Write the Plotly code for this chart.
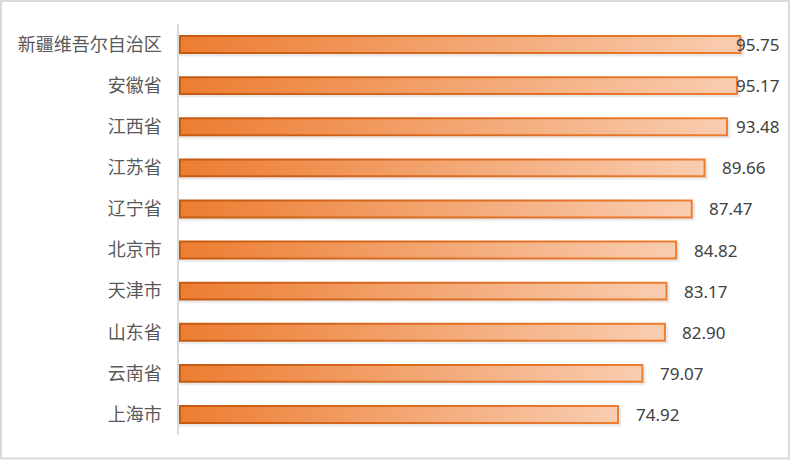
import plotly.graph_objects as go

categories = ["新疆维吾尔自治区", "安徽省", "江西省", "江苏省", "辽宁省",
              "北京市", "天津市", "山东省", "云南省", "上海市"]
values = [95.75, 95.17, 93.48, 89.66, 87.47, 84.82, 83.17, 82.90, 79.07, 74.92]
value_labels = ["95.75", "95.17", "93.48", "89.66", "87.47",
                "84.82", "83.17", "82.90", "79.07", "74.92"]

W, H = 790, 460
ML, MR, MT, MB = 179, 9, 24, 25
XMAX = 102.5
pw = W - ML - MR
ph = H - MT - MB
px_x = pw / XMAX               # pixels per data unit (x)
px_y = ph / len(categories)    # pixels per category band

half = 0.23
fig = go.Figure()

for i, v in enumerate(values):
    # soft shadow
    for k, a in enumerate([0.035, 0.05]):
        off = (3 - k) / px_y
        ox = (3 - k) / px_x
        fig.add_trace(go.Scatter(
            x=[0, v + ox, v + ox, 0, 0],
            y=[i - half + off, i - half + off, i + half + off, i + half + off, i - half + off],
            mode="lines", line=dict(width=0), fill="toself",
            fillcolor=f"rgba(0,0,0,{a})", hoverinfo="skip", showlegend=False))
    # outer (border)
    fig.add_trace(go.Scatter(
        x=[0, v, v, 0, 0],
        y=[i - half, i - half, i + half, i + half, i - half],
        mode="lines", line=dict(width=0), fill="toself",
        fillgradient=dict(type="horizontal",
                          colorscale=[[0, "#C55A11"], [1, "#ED7D31"]]),
        hoverinfo="skip", showlegend=False))
    # inner (gradient fill)
    dx = 2 / px_x
    dy = 2 / px_y
    fig.add_trace(go.Scatter(
        x=[dx, v - dx, v - dx, dx, dx],
        y=[i - half + dy, i - half + dy, i + half - dy, i + half - dy, i - half + dy],
        mode="lines", line=dict(width=0), fill="toself",
        fillgradient=dict(type="horizontal",
                          colorscale=[[0, "#ED7D31"], [1, "#F9CDB0"]]),
        hovertemplate=f"{categories[i]}: {value_labels[i]}<extra></extra>",
        showlegend=False))

# value labels (outside end, kept inside the plot area)
label_w = 47
for i, v in enumerate(values):
    x_lab = min(v + 14.5 / px_x, XMAX - label_w / px_x)
    fig.add_annotation(x=x_lab, y=i, text=value_labels[i], showarrow=False,
                       xanchor="left", yanchor="middle",
                       font=dict(family="Noto Sans, Open Sans, sans-serif",
                                 size=17, color="#404040"))

# outer chart border
fig.add_shape(type="rect", xref="paper", yref="paper",
              x0=(-ML + 1) / pw, x1=(W - ML - 1) / pw,
              y0=(-MB + 1.5) / ph, y1=(H - MB - 1) / ph,
              line=dict(color="#D9D9D9", width=2), layer="below")

fig.update_layout(
    width=W, height=H,
    margin=dict(l=ML, r=MR, t=MT, b=MB),
    paper_bgcolor="white", plot_bgcolor="white",
    xaxis=dict(range=[0, XMAX], showgrid=False, zeroline=False,
               showticklabels=False, showline=False, fixedrange=True),
    yaxis=dict(range=[len(categories) - 0.5, -0.5], tickmode="array",
               tickvals=list(range(len(categories))), ticktext=categories,
               showgrid=False, zeroline=False, showline=True,
               linecolor="#D9D9D9", linewidth=1.5, ticks="",
               ticklabelstandoff=12, fixedrange=True,
               tickfont=dict(family="Noto Sans CJK SC", size=18, color="#595959")),
)

fig.write_html("out.html", config={"displayModeBar": False},
               post_script="document.body.style.margin='0';document.body.style.padding='0';")
